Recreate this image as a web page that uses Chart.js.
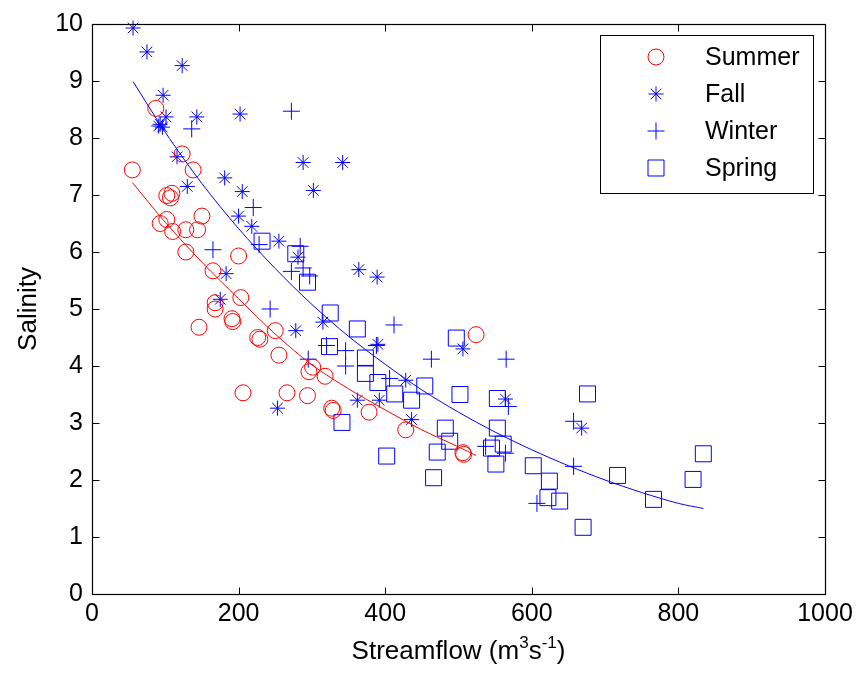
<!DOCTYPE html>
<html>
<head>
<meta charset="utf-8">
<script src="https://cdn.jsdelivr.net/npm/chart.js@4.4.0/dist/chart.umd.min.js"></script>
<style>
html,body{margin:0;padding:0;background:#fff;}
#wrap{width:859px;height:675px;position:relative;}
</style>
</head>
<body>
<div id="wrap"><canvas id="c" width="859" height="675"></canvas></div>
<script>
// ---- data ----
const summerFlow = [55,87,123,138,102,109,107,93,102,110,128,144,150,128,200,165,168,168,191,192,203,146,250,226,229,255,206,266,294,296,301,318,327,329,378,428,506,507,524];
const summerSalinity = [7.44,8.52,7.72,7.44,6.99,7.03,6.95,6.5,6.57,6.36,6.39,6.39,6.63,6.0,5.93,5.67,5.11,5.0,4.83,4.78,5.2,4.68,4.62,4.5,4.47,4.19,3.53,3.53,3.48,3.9,3.98,3.82,3.26,3.22,3.19,2.88,2.48,2.45,4.55];

const fallFlow = [56,75,123,97,101,91,93,96,143,202,116,130,181,205,288,342,302,200,218,255,281,364,389,183,175,278,315,253,362,392,436,428,390,506,564,668];
const fallSalinity = [9.93,9.51,9.27,8.75,8.37,8.21,8.24,8.19,8.37,8.42,7.67,7.15,7.30,7.06,7.57,7.57,7.08,6.63,6.45,6.19,5.91,5.69,5.56,5.62,5.17,4.62,4.77,3.26,3.40,3.40,3.06,3.75,4.38,4.30,3.42,2.91];

const winterFlow = [136,272,220,228,165,284,272,288,297,243,412,320,346,346,388,295,463,565,406,568,537,564,657,657,607];
const winterSalinity = [8.16,8.47,6.78,6.13,6.04,6.10,5.66,5.72,5.58,5.0,4.72,4.36,4.27,4.0,4.36,4.12,4.12,4.12,3.78,3.29,2.59,2.47,3.03,2.24,1.59];

const springFlow = [232,278,294,325,362,324,373,373,390,413,436,454,341,497,502,553,402,482,488,471,466,553,561,545,551,602,624,622,638,670,717,676,834,820,766];
const springSalinity = [6.19,5.97,5.47,4.93,4.65,4.34,4.14,3.87,3.71,3.51,3.40,3.65,3.01,4.49,3.50,3.43,2.42,2.91,2.68,2.49,2.04,2.91,2.63,2.56,2.28,2.25,1.98,1.69,1.63,1.17,2.08,3.51,2.46,2.01,1.66];

// fitted curves
const summerFitFlow = [55,100,150,200,250,300,350,400,450,500,524];
const summerFitSalinity = [7.22,6.52,5.82,5.18,4.56,4.02,3.60,3.23,2.88,2.58,2.43];
const allFitFlow = [56,100,150,200,250,300,350,400,450,500,550,600,650,700,750,800,834];
const allFitSalinity = [8.99,8.10,7.20,6.41,5.71,5.08,4.52,4.03,3.58,3.19,2.84,2.53,2.25,2.00,1.78,1.59,1.50];

const xTicks = [0,200,400,600,800,1000];
const yTicks = [0,1,2,3,4,5,6,7,8,9,10];
const seriesNames = ['Summer','Fall','Winter','Spring'];
const xTitle = ['Streamflow (m','3','s','-1',')'];
const yTitle = 'Salinity';

// ---- build ----
const pts = (xs, ys) => xs.map((x, i) => ({x: x, y: ys[i]}));
const FONT = '"Liberation Sans", Arial, Helvetica, sans-serif';
const RED = '#ff0000', BLUE = '#0000ff';

const markerDs = (label, xs, ys, style, r, color) => ({
  label: label, data: pts(xs, ys), showLine: false,
  pointStyle: style, pointRadius: r, pointHoverRadius: r,
  pointBorderColor: color, pointBackgroundColor: 'rgba(0,0,0,0)',
  pointBorderWidth: 1, borderColor: color, clip: false, isMarker: true
});
const lineDs = (xs, ys, color) => ({
  label: '', data: pts(xs, ys), showLine: true, pointRadius: 0,
  borderColor: color, borderWidth: 1, fill: false, tension: 0.3, clip: false, isMarker: false
});

const frame = {
  id: 'frame',
  afterDatasetsDraw(chart) {
    const {ctx, chartArea: a, scales} = chart;
    ctx.save();
    ctx.strokeStyle = '#000';
    ctx.lineWidth = 1;
    const L = Math.round(a.left) + 0.5, R = Math.round(a.right) + 0.5;
    const T = Math.round(a.top) + 0.5, B = Math.round(a.bottom) + 0.5;
    ctx.beginPath();
    const tl = 7;
    xTicks.forEach(v => {
      const px = Math.round(scales.x.getPixelForValue(v)) + 0.5;
      ctx.moveTo(px, B); ctx.lineTo(px, B - tl);
      ctx.moveTo(px, T); ctx.lineTo(px, T + tl);
    });
    yTicks.forEach(v => {
      const py = Math.round(scales.y.getPixelForValue(v)) + 0.5;
      ctx.moveTo(L, py); ctx.lineTo(L + tl, py);
      ctx.moveTo(R, py); ctx.lineTo(R - tl, py);
    });
    ctx.stroke();
    ctx.lineWidth = 1.2;
    ctx.strokeRect(L, T, R - L, B - T);

    // axis titles
    ctx.fillStyle = '#000';
    ctx.textBaseline = 'alphabetic';
    const big = '26px ' + FONT, small = '17px ' + FONT, leg = '25px ' + FONT;
    const parts = [[xTitle[0], big, 0], [xTitle[1], small, -11], [xTitle[2], big, 0], [xTitle[3], small, -11], [xTitle[4], big, 0]];
    let total = 0;
    parts.forEach(p => { ctx.font = p[1]; total += ctx.measureText(p[0]).width; });
    let x = (a.left + a.right) / 2 - total / 2;
    const by = 659;
    parts.forEach(p => { ctx.font = p[1]; ctx.fillText(p[0], x, by + p[2]); x += ctx.measureText(p[0]).width; });

    ctx.save();
    ctx.translate(36, (a.top + a.bottom) / 2);
    ctx.rotate(-Math.PI / 2);
    ctx.font = big;
    ctx.textAlign = 'center';
    ctx.fillText(yTitle, 0, 0);
    ctx.restore();

    // legend
    const lx = 600.5, ly = 35.5, lw = 213, lh = 158;
    ctx.fillStyle = '#fff';
    ctx.fillRect(lx, ly, lw, lh);
    ctx.strokeStyle = '#000';
    ctx.lineWidth = 1;
    ctx.strokeRect(lx, ly, lw, lh);
    let row = 0;
    chart.data.datasets.forEach(ds => {
      if (!ds.isMarker) return;
      const yy = 57 + row * 37;
      ctx.strokeStyle = ds.pointBorderColor;
      ctx.fillStyle = 'rgba(0,0,0,0)';
      ctx.lineWidth = 1;
      Chart.helpers.drawPoint(ctx, {pointStyle: ds.pointStyle, radius: ds.pointRadius, rotation: 0, borderWidth: 1}, 656, yy);
      ctx.fillStyle = '#000';
      ctx.font = leg;
      ctx.textAlign = 'left';
      ctx.textBaseline = 'middle';
      ctx.fillText(ds.label, 705, yy + 1);
      row++;
    });
    ctx.restore();
  }
};

new Chart(document.getElementById('c'), {
  type: 'scatter',
  data: {
    datasets: [
      lineDs(summerFitFlow, summerFitSalinity, RED),
      lineDs(allFitFlow, allFitSalinity, BLUE),
      markerDs(seriesNames[0], summerFlow, summerSalinity, 'circle', 8, RED),
      markerDs(seriesNames[1], fallFlow, fallSalinity, 'star', 7.5, BLUE),
      markerDs(seriesNames[2], winterFlow, winterSalinity, 'cross', 8.5, BLUE),
      markerDs(seriesNames[3], springFlow, springSalinity, 'rect', 11.3, BLUE)
    ]
  },
  options: {
    responsive: false,
    devicePixelRatio: 1,
    animation: false,
    events: [],
    layout: {padding: {top: 20, right: 34, left: 0, bottom: 0}},
    plugins: {legend: {display: false}, tooltip: {enabled: false}},
    scales: {
      x: {
        type: 'linear', min: 0, max: 1000,
        afterBuildTicks(s) { s.ticks = xTicks.map(v => ({value: v})); },
        ticks: {font: {family: FONT, size: 25}, color: '#000', padding: 5, maxRotation: 0, autoSkip: false,
                callback: v => String(v)},
        grid: {display: false, drawTicks: false},
        border: {display: false},
        afterFit(s) { s.height = 81; }
      },
      y: {
        type: 'linear', min: 0, max: 10,
        afterBuildTicks(s) { s.ticks = yTicks.map(v => ({value: v})); },
        ticks: {font: {family: FONT, size: 25}, color: '#000', padding: 9, autoSkip: false,
                callback: v => String(v)},
        grid: {display: false, drawTicks: false},
        border: {display: false},
        afterFit(s) { s.width = 92; }
      }
    }
  },
  plugins: [frame]
});
</script>
</body>
</html>
